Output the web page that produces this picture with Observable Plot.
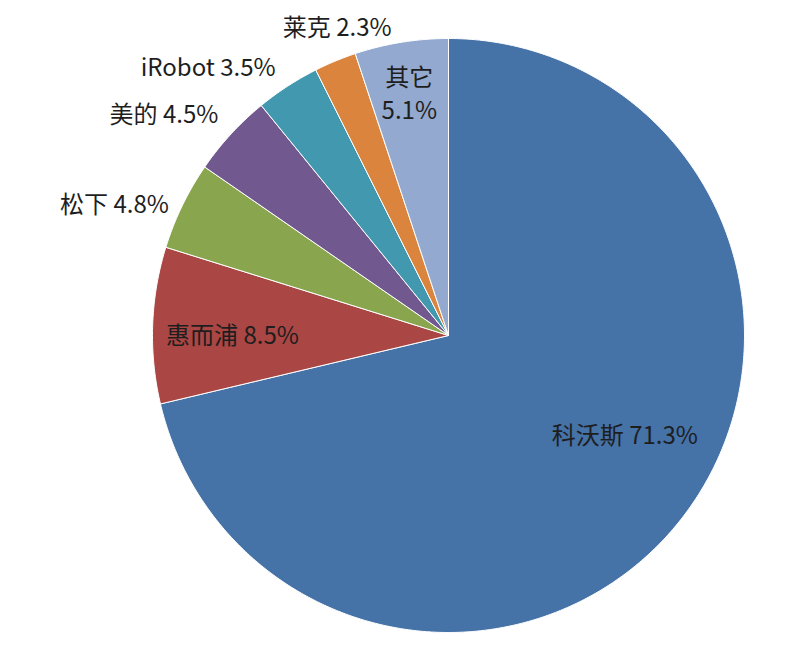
<!DOCTYPE html>
<html>
<head>
<meta charset="utf-8">
<script src="https://cdn.jsdelivr.net/npm/d3@7"></script>
<script src="https://cdn.jsdelivr.net/npm/@observablehq/plot@0.6"></script>
<style>
  html, body { margin: 0; padding: 0; background: #ffffff; }
  #chart svg { display: block; }
</style>
</head>
<body>
<div id="chart"></div>
<script>
// ---- data ----
const names  = ["科沃斯", "惠而浦", "松下", "美的", "iRobot", "莱克", "其它"];
const shares = [71.3, 8.5, 4.8, 4.5, 3.5, 2.3, 5.1];
const colors = ["#4572A7", "#AA4643", "#89A54E", "#71588F", "#4198AF", "#DB843D", "#93A9CF"];

// ---- label layout (relative to slice mid-angle / radius) ----
const labelRadius = [0.68, 0.73, 1.045, 1.08, 1.08, 1.11, 0.83];
const labelShift  = [-9.5, -1.4, -0.6, 1.3, 0.2, 2.7, 0];   // degrees
const labelAnchor = ["middle", "middle", "end", "end", "end", "middle", "middle"];
const labelBreak  = [false, false, false, false, false, false, true];

// ---- build slice polygons (angles clockwise from 12 o'clock) ----
const total = d3.sum(shares);
const toRad = Math.PI / 180;
const polyPts = [];
const labels = [];
let acc = 0;
names.forEach((name, i) => {
  const a0 = acc / total * 360;
  acc += shares[i];
  const a1 = acc / total * 360;
  polyPts.push({name, x: 0, y: 0});
  const steps = Math.max(2, Math.ceil((a1 - a0) / 0.5));
  for (let k = 0; k <= steps; k++) {
    const a = (a0 + (a1 - a0) * k / steps) * toRad;
    polyPts.push({name, x: Math.sin(a), y: Math.cos(a)});
  }
  polyPts.push({name, x: 0, y: 0});
  const mid = ((a0 + a1) / 2 + labelShift[i]) * toRad;
  const pct = shares[i].toFixed(1) + "%";
  labels.push({
    name,
    anchor: labelAnchor[i],
    x: labelRadius[i] * Math.sin(mid),
    y: labelRadius[i] * Math.cos(mid),
    text: labelBreak[i] ? name + "\n" + pct : name + " " + pct
  });
});

const textOpts = {
  x: "x", y: "y", text: "text",
  fill: "#1e1e1e",
  fontSize: 24,
  lineHeight: 1.38,
  fontFamily: "'Noto Sans CJK SC', 'Noto Sans', sans-serif"
};

const chart = Plot.plot({
  width: 800,
  height: 661,
  marginLeft: 152,
  marginRight: 56,
  marginTop: 38,
  marginBottom: 29,
  x: {domain: [-1, 1], axis: null},
  y: {domain: [-1, 1], axis: null},
  color: {domain: names, range: colors},
  style: {background: "#ffffff", overflow: "visible"},
  marks: [
    Plot.line(polyPts, {x: "x", y: "y", z: "name", fill: "name", stroke: "#ffffff", strokeWidth: 1, strokeLinejoin: "round"}),
    Plot.text(labels.filter(d => d.anchor === "middle"), {...textOpts, textAnchor: "middle"}),
    Plot.text(labels.filter(d => d.anchor === "end"), {...textOpts, textAnchor: "end"})
  ]
});
document.getElementById("chart").appendChild(chart);
</script>
</body>
</html>
